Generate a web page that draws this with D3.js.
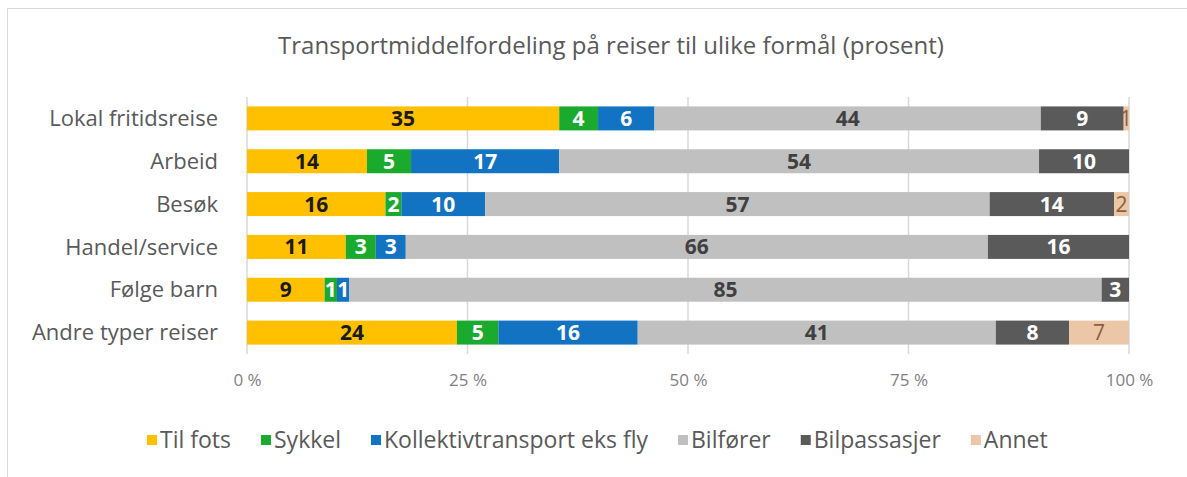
<!DOCTYPE html>
<meta charset="utf-8">
<head>
  <script src="https://d3js.org/d3.v7.min.js"></script>
  <style>
    body { margin: 0; background: #fff; }
    svg text { font-family: "Open Sans", sans-serif; }
  </style>
</head>
<body>
<svg width="1187" height="477"></svg>
<script>
// categories (top to bottom)
var categories = ["Lokal fritidsreise", "Arbeid", "Besøk", "Handel/service", "Følge barn", "Andre typer reiser"];
var seriesNames = ["Til fots", "Sykkel", "Kollektivtransport eks fly", "Bilfører", "Bilpassasjer", "Annet"];
// values per series, same order as categories (prosent)
var tilFots     = [35.4, 13.6, 15.7, 11.2, 8.8, 23.8];
var sykkel      = [4.4, 5.0, 1.8, 3.4, 1.4, 4.7];
var kollektiv   = [6.4, 16.8, 9.5, 3.4, 1.4, 15.8];
var bilforer    = [43.8, 54.4, 57.2, 66.0, 85.3, 40.6];
var bilpassasjer= [9.4, 10.2, 14.1, 16.0, 3.1, 8.3];
var annet       = [0.6, 0, 1.7, 0, 0, 6.8];
var ticks = [0, 0.25, 0.5, 0.75, 1];

var colors = ["#ffc000", "#1aab2e", "#1273c2", "#c0c0c0", "#5a5a5a", "#ebc7a7"];
var labelColors = ["#1a1a1a", "#ffffff", "#ffffff", "#404040", "#ffffff", "#8a6040"];

var allSeries = [tilFots, sykkel, kollektiv, bilforer, bilpassasjer, annet];
var rows = categories.map(function(c, i) {
  var r = {cat: c};
  seriesNames.forEach(function(s, j) { r[s] = allSeries[j][i]; });
  return r;
});

var svg = d3.select("svg");

// chart frame
svg.append("rect").attr("x", 7.5).attr("y", 8.5).attr("width", 1200).attr("height", 500)
  .attr("fill", "none").attr("stroke", "#d9d9d9");

var x = d3.scaleLinear().domain([0, 1]).range([247, 1129]);
var y = d3.scaleBand().domain(categories).range([97, 354]).paddingInner(0.44).paddingOuter(0.22);

// title
svg.append("text").attr("x", 611).attr("y", 54).attr("text-anchor", "middle")
  .attr("fill", "#595959").style("font-size", "24px")
  .text("Transportmiddelfordeling på reiser til ulike formål (prosent)");

// gridlines
svg.append("g").selectAll("line").data(ticks).enter().append("line")
  .attr("x1", function(d) { return x(d); }).attr("x2", function(d) { return x(d); })
  .attr("y1", 97).attr("y2", 354)
  .attr("stroke", "#d9d9d9").attr("stroke-width", 1.5);

// axis
var xAxis = svg.append("g").attr("transform", "translate(0,354)")
  .call(d3.axisBottom(x).tickValues(ticks).tickSize(0).tickPadding(20)
    .tickFormat(function(d) { return Math.round(d * 100) + " %"; }));
xAxis.select(".domain").remove();
xAxis.selectAll("text").attr("fill", "#7f7f7f").style("font-size", "17px")
  .style("font-family", "'Open Sans', sans-serif");

// category labels
svg.append("g").selectAll("text").data(categories).enter().append("text")
  .attr("x", 218).attr("y", function(d) { return y(d) + y.bandwidth() / 2; })
  .attr("dy", "0.35em").attr("text-anchor", "end")
  .attr("fill", "#595959").style("font-size", "22px")
  .text(function(d) { return d; });

var stack = d3.stack().keys(seriesNames).offset(d3.stackOffsetExpand);
var stacked = stack(rows);

var groups = svg.append("g").selectAll("g").data(stacked).enter().append("g")
  .attr("fill", function(d, i) { return colors[i]; });

groups.selectAll("rect").data(function(d) { return d; }).enter().append("rect")
  .attr("x", function(d) { return x(d[0]); })
  .attr("width", function(d) { return x(d[1]) - x(d[0]); })
  .attr("y", function(d) { return y(d.data.cat); })
  .attr("height", y.bandwidth());

// value labels
groups.each(function(s, i) {
  d3.select(this).selectAll("text").data(s.filter(function(d) { return d.data[s.key] > 0; }))
    .enter().append("text")
    .attr("x", function(d) {
      var c = x((d[0] + d[1]) / 2);
      return Math.min(c, 1126);
    })
    .attr("y", function(d) { return y(d.data.cat) + y.bandwidth() / 2; })
    .attr("dy", "0.36em")
    .attr("text-anchor", "middle")
    .attr("fill", labelColors[i])
    .style("font-size", "21px")
    .style("font-weight", i == 5 ? "normal" : "bold")
    .text(function(d) { return Math.round(d.data[s.key]); });
});

// legend
var legend = svg.append("g").attr("transform", "translate(0,440)");
var lx = 147;
seriesNames.forEach(function(s, i) {
  var item = legend.append("g").attr("transform", "translate(" + lx + ",0)");
  item.append("rect").attr("x", 0).attr("y", -5).attr("width", 10).attr("height", 10).attr("fill", colors[i]);
  var t = item.append("text").attr("x", 13).attr("dy", "0.35em")
    .attr("fill", "#595959").style("font-size", "23px").text(s);
  lx += 13 + t.node().getComputedTextLength() + 30;
});
</script>
</body>
